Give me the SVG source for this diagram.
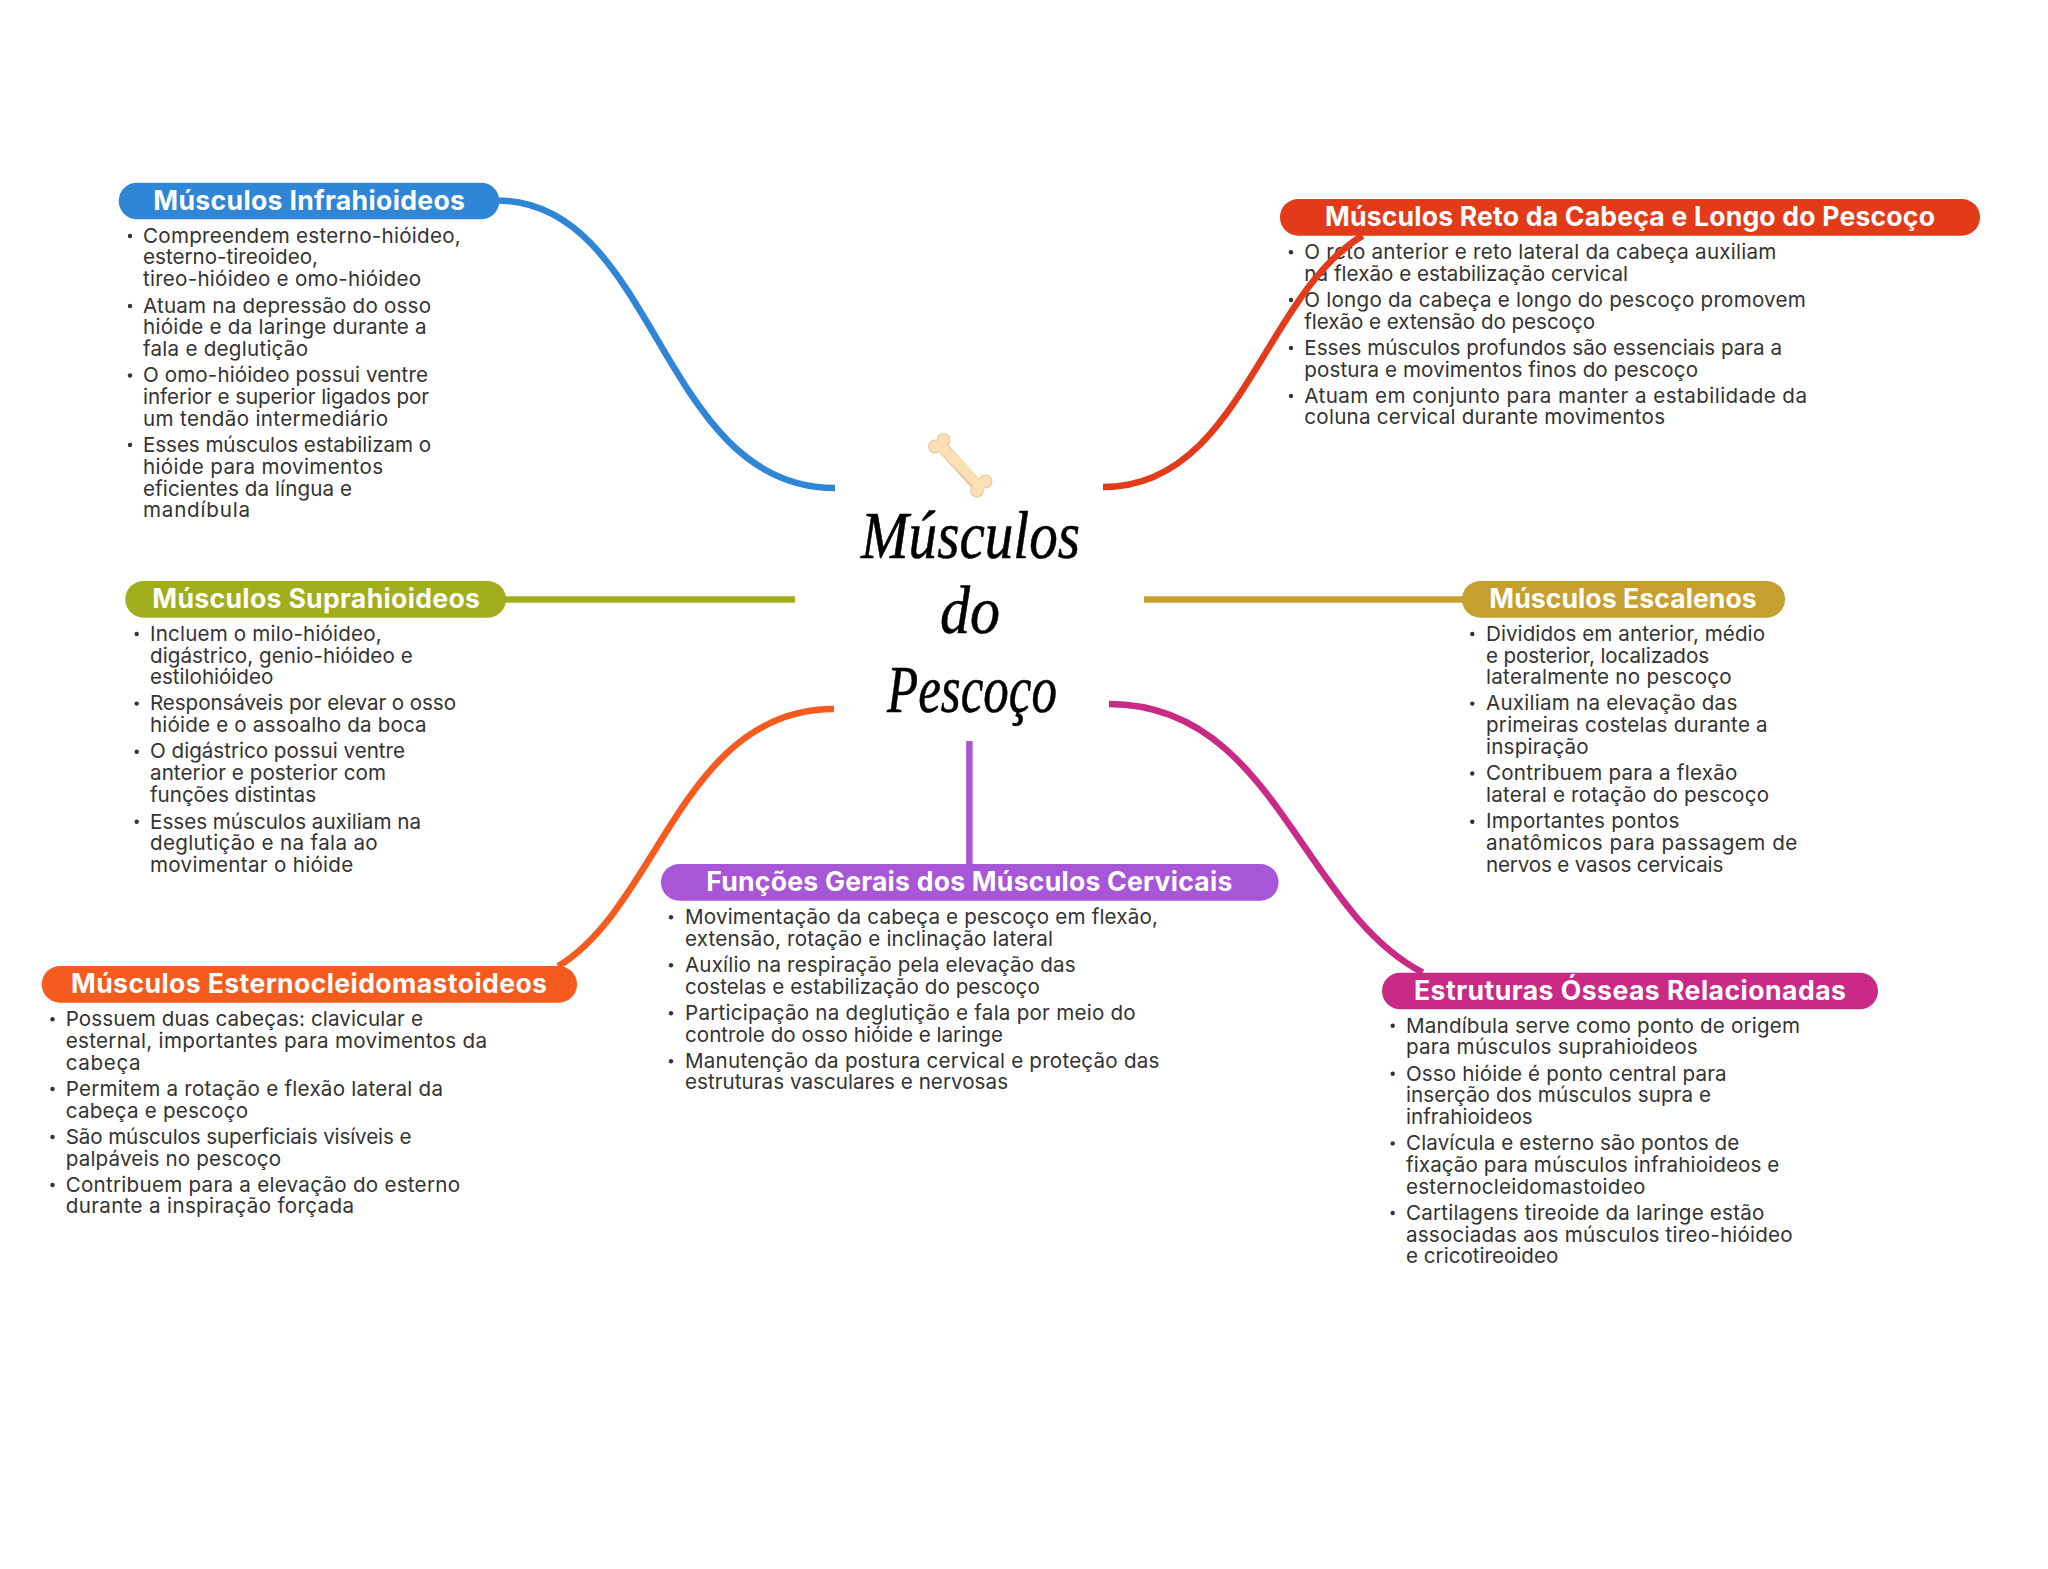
<svg xmlns="http://www.w3.org/2000/svg" width="2048" height="1569" viewBox="0 0 2048 1569">
<style>
.b{font-family:"Inter","Noto Sans","Liberation Sans",sans-serif;font-size:20.6px;fill:#333;}
.h{font-family:"Inter","Noto Sans","Liberation Sans",sans-serif;font-size:26.6px;font-weight:700;fill:#fff;}
.t{font-family:"Liberation Serif",serif;font-style:italic;font-size:68px;fill:#000;stroke:#000;stroke-width:.6px;}
.d{fill:#333;}
.c{fill:none;stroke-width:6.5;}
</style>
<rect width="2048" height="1569" fill="#fff"/>
<g id="center">
<g id="bone">
<path d="M945 450L975 483" stroke="#EFC79E" stroke-width="12" stroke-linecap="round" fill="none"/>
<g fill="#EFC79E"><circle cx="943.5" cy="440" r="7"/><circle cx="935" cy="446.5" r="7"/><circle cx="985.5" cy="481.5" r="7"/><circle cx="977" cy="490.5" r="7"/></g>
<g fill="#FBE0B5"><circle cx="943.5" cy="440" r="5.8"/><circle cx="935" cy="446.5" r="5.8"/><circle cx="985.5" cy="481.5" r="5.8"/><circle cx="977" cy="490.5" r="5.8"/></g>
<path d="M940 445L980 486" stroke="#FBE0B5" stroke-width="10" stroke-linecap="round" fill="none"/>
</g>
<text class="t" x="861" y="558" textLength="219" lengthAdjust="spacingAndGlyphs">Músculos</text>
<text class="t" x="940" y="633" textLength="60" lengthAdjust="spacingAndGlyphs">do</text>
<text class="t" x="887" y="712" textLength="170" lengthAdjust="spacingAndGlyphs">Pescoço</text>
</g>
<g id="node-infra">
<rect x="118.7" y="182.7" width="380.6" height="36.6" rx="18.3" fill="#2F86D6"/>
<text class="h" x="153.3" y="209.8" textLength="311.7">Músculos Infrahioideos</text>
<g class="d"><circle cx="130" cy="236" r="2.2"/><circle cx="130" cy="306" r="2.2"/><circle cx="130" cy="375.5" r="2.2"/><circle cx="130" cy="445" r="2.2"/></g>
<text class="b" x="143" y="242.5" textLength="317.7">Compreendem esterno-hióideo,</text>
<text class="b" x="143" y="264.3" textLength="175">esterno-tireoideo,</text>
<text class="b" x="143" y="286" textLength="278">tireo-hióideo e omo-hióideo</text>
<text class="b" x="143" y="312.7" textLength="288">Atuam na depressão do osso</text>
<text class="b" x="143" y="334.4" textLength="283.7">hióide e da laringe durante a</text>
<text class="b" x="143" y="356.2" textLength="165">fala e deglutição</text>
<text class="b" x="143" y="382.3" textLength="285">O omo-hióideo possui ventre</text>
<text class="b" x="143" y="404" textLength="286">inferior e superior ligados por</text>
<text class="b" x="143" y="425.8" textLength="245">um tendão intermediário</text>
<text class="b" x="143" y="452" textLength="288">Esses músculos estabilizam o</text>
<text class="b" x="143" y="473.7" textLength="240">hióide para movimentos</text>
<text class="b" x="143" y="495.5" textLength="209">eficientes da língua e</text>
<text class="b" x="143" y="517.2" textLength="107">mandíbula</text>
</g>
<g id="node-supra">
<rect x="125.3" y="581" width="380.7" height="36.7" rx="18.3" fill="#A1AD1B"/>
<text class="h" x="152.3" y="608" textLength="327.7">Músculos Suprahioideos</text>
<g class="d"><circle cx="136.7" cy="634" r="2.2"/><circle cx="136.7" cy="703.6" r="2.2"/><circle cx="136.7" cy="751.8" r="2.2"/><circle cx="136.7" cy="821.8" r="2.2"/></g>
<text class="b" x="150" y="640.7" textLength="231.7">Incluem o milo-hióideo,</text>
<text class="b" x="150" y="662.5" textLength="262.7">digástrico, genio-hióideo e</text>
<text class="b" x="150" y="684.2" textLength="123.3">estilohióideo</text>
<text class="b" x="150" y="710.3" textLength="306">Responsáveis por elevar o osso</text>
<text class="b" x="150" y="732" textLength="276.7">hióide e o assoalho da boca</text>
<text class="b" x="150" y="758.4" textLength="255">O digástrico possui ventre</text>
<text class="b" x="150" y="780.2" textLength="236">anterior e posterior com</text>
<text class="b" x="150" y="802" textLength="166">funções distintas</text>
<text class="b" x="150" y="828.5" textLength="271">Esses músculos auxiliam na</text>
<text class="b" x="150" y="850.2" textLength="227.7">deglutição e na fala ao</text>
<text class="b" x="150" y="872" textLength="203.3">movimentar o hióide</text>
</g>
<g id="node-esterno">
<rect x="41.8" y="966" width="535.2" height="36.7" rx="18.3" fill="#F55A1F"/>
<text class="h" x="71" y="993" textLength="476">Músculos Esternocleidomastoideos</text>
<g class="d"><circle cx="52.5" cy="1019.3" r="2.2"/><circle cx="52.5" cy="1089" r="2.2"/><circle cx="52.5" cy="1137" r="2.2"/><circle cx="52.5" cy="1185" r="2.2"/></g>
<text class="b" x="65.7" y="1026" textLength="357.2">Possuem duas cabeças: clavicular e</text>
<text class="b" x="65.7" y="1047.8" textLength="421.3">esternal, importantes para movimentos da</text>
<text class="b" x="65.7" y="1069.5" textLength="75">cabeça</text>
<text class="b" x="65.7" y="1095.7" textLength="377.3">Permitem a rotação e flexão lateral da</text>
<text class="b" x="65.7" y="1117.5" textLength="182.3">cabeça e pescoço</text>
<text class="b" x="65.7" y="1143.7" textLength="345.7">São músculos superficiais visíveis e</text>
<text class="b" x="65.7" y="1165.5" textLength="215.3">palpáveis no pescoço</text>
<text class="b" x="65.7" y="1191.7" textLength="394.3">Contribuem para a elevação do esterno</text>
<text class="b" x="65.7" y="1213" textLength="288.3">durante a inspiração forçada</text>
</g>
<g id="node-funcoes">
<rect x="661" y="864" width="617.6" height="36.7" rx="18.3" fill="#A656D6"/>
<text class="h" x="706.3" y="891" textLength="526">Funções Gerais dos Músculos Cervicais</text>
<g class="d"><circle cx="671" cy="917.3" r="2.2"/><circle cx="671" cy="965.3" r="2.2"/><circle cx="671" cy="1013.3" r="2.2"/><circle cx="671" cy="1061.3" r="2.2"/></g>
<text class="b" x="685" y="924" textLength="473">Movimentação da cabeça e pescoço em flexão,</text>
<text class="b" x="685" y="945.8" textLength="368">extensão, rotação e inclinação lateral</text>
<text class="b" x="685" y="972" textLength="390.7">Auxílio na respiração pela elevação das</text>
<text class="b" x="685" y="993.8" textLength="354.8">costelas e estabilização do pescoço</text>
<text class="b" x="685" y="1020" textLength="450.7">Participação na deglutição e fala por meio do</text>
<text class="b" x="685" y="1041.8" textLength="318">controle do osso hióide e laringe</text>
<text class="b" x="685" y="1068" textLength="474.4">Manutenção da postura cervical e proteção das</text>
<text class="b" x="685" y="1089.3" textLength="323">estruturas vasculares e nervosas</text>
</g>
<g id="node-reto">
<rect x="1280" y="199" width="700" height="36.7" rx="18.3" fill="#E33A1A"/>
<text class="h" x="1325" y="226" textLength="610">Músculos Reto da Cabeça e Longo do Pescoço</text>
<g class="d"><circle cx="1291" cy="252.3" r="2.2"/><circle cx="1291" cy="300" r="2.2"/><circle cx="1291" cy="348" r="2.2"/><circle cx="1291" cy="396" r="2.2"/></g>
<text class="b" x="1304.3" y="259" textLength="472">O reto anterior e reto lateral da cabeça auxiliam</text>
<text class="b" x="1304.3" y="280.8" textLength="323.7">na flexão e estabilização cervical</text>
<text class="b" x="1304.3" y="306.7" textLength="501.5">O longo da cabeça e longo do pescoço promovem</text>
<text class="b" x="1304.3" y="328.5" textLength="290.7">flexão e extensão do pescoço</text>
<text class="b" x="1304.3" y="354.7" textLength="477.7">Esses músculos profundos são essenciais para a</text>
<text class="b" x="1304.3" y="376.5" textLength="393.7">postura e movimentos finos do pescoço</text>
<text class="b" x="1304.3" y="402.7" textLength="502.7">Atuam em conjunto para manter a estabilidade da</text>
<text class="b" x="1304.3" y="424.3" textLength="360.7">coluna cervical durante movimentos</text>
</g>
<g id="node-escalenos">
<rect x="1462" y="581" width="323" height="36.7" rx="18.3" fill="#C6A02E"/>
<text class="h" x="1489.3" y="608" textLength="267.4">Músculos Escalenos</text>
<g class="d"><circle cx="1472.3" cy="634" r="2.2"/><circle cx="1472.3" cy="703.6" r="2.2"/><circle cx="1472.3" cy="773.5" r="2.2"/><circle cx="1472.3" cy="821.8" r="2.2"/></g>
<text class="b" x="1486" y="640.7" textLength="279">Divididos em anterior, médio</text>
<text class="b" x="1486" y="662.5" textLength="223">e posterior, localizados</text>
<text class="b" x="1486" y="684.2" textLength="245.7">lateralmente no pescoço</text>
<text class="b" x="1486" y="710.3" textLength="251.3">Auxiliam na elevação das</text>
<text class="b" x="1486" y="732" textLength="281.7">primeiras costelas durante a</text>
<text class="b" x="1486" y="753.7" textLength="102.7">inspiração</text>
<text class="b" x="1486" y="780.2" textLength="251.3">Contribuem para a flexão</text>
<text class="b" x="1486" y="802" textLength="283">lateral e rotação do pescoço</text>
<text class="b" x="1486" y="828.2" textLength="193.3">Importantes pontos</text>
<text class="b" x="1486" y="850" textLength="311.3">anatômicos para passagem de</text>
<text class="b" x="1486" y="872" textLength="237.3">nervos e vasos cervicais</text>
</g>
<g id="node-estruturas">
<rect x="1382" y="972.7" width="496" height="36.6" rx="18.3" fill="#C82A86"/>
<text class="h" x="1414" y="1000" textLength="432">Estruturas Ósseas Relacionadas</text>
<g class="d"><circle cx="1392.7" cy="1025.7" r="2.2"/><circle cx="1392.7" cy="1073.7" r="2.2"/><circle cx="1392.7" cy="1143.4" r="2.2"/><circle cx="1392.7" cy="1213" r="2.2"/></g>
<text class="b" x="1406" y="1032.5" textLength="394">Mandíbula serve como ponto de origem</text>
<text class="b" x="1406" y="1054.3" textLength="291.7">para músculos suprahioideos</text>
<text class="b" x="1406" y="1080.5" textLength="320.7">Osso hióide é ponto central para</text>
<text class="b" x="1406" y="1102.2" textLength="305">inserção dos músculos supra e</text>
<text class="b" x="1406" y="1124" textLength="126.7">infrahioideos</text>
<text class="b" x="1406" y="1150.2" textLength="333.3">Clavícula e esterno são pontos de</text>
<text class="b" x="1406" y="1172" textLength="373.3">fixação para músculos infrahioideos e</text>
<text class="b" x="1406" y="1193.8" textLength="239.3">esternocleidomastoideo</text>
<text class="b" x="1406" y="1219.7" textLength="358.3">Cartilagens tireoide da laringe estão</text>
<text class="b" x="1406" y="1241.5" textLength="386.7">associadas aos músculos tireo-hióideo</text>
<text class="b" x="1406" y="1263.3" textLength="152.3">e cricotireoideo</text>
</g>
<g id="connectors">
<path class="c" stroke="#2F86D6" d="M497 200.5C658 200.5 658 488 835 488"/>
<path class="c" stroke="#E33A1A" d="M1103 487C1239.9 487 1261.8 296.6 1362.5 235.6"/>
<path class="c" stroke="#A1AD1B" d="M504 599.5H795"/>
<path class="c" stroke="#C6A02E" d="M1144 599.5H1464"/>
<path class="c" stroke="#F55A1F" d="M834 709C682.7 709 659.3 905.4 558 966.3"/>
<path class="c" stroke="#A656D6" d="M969.4 741V866"/>
<path class="c" stroke="#C82A86" d="M1109 704C1274.6 704 1300.3 908.9 1422.6 972.4"/>
</g>
</svg>
